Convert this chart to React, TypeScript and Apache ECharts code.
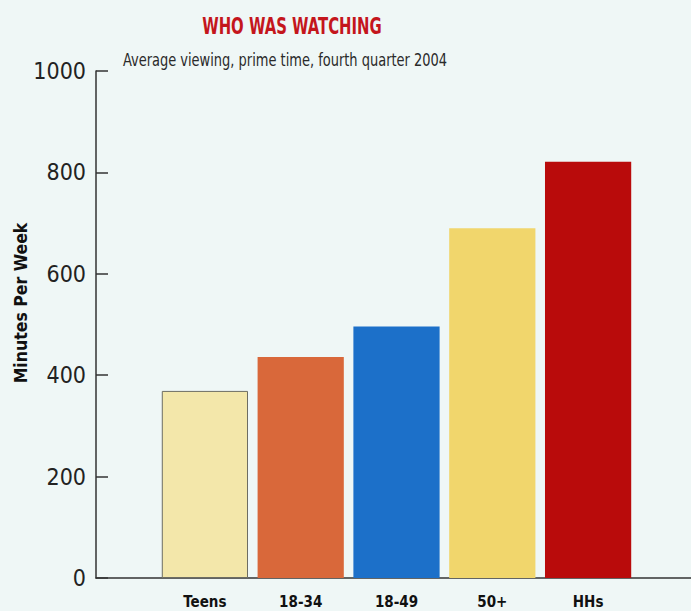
import React, { useEffect, useRef } from "react";
import * as echarts from "echarts";

const categories = ["Teens", "18-34", "18-49", "50+", "HHs"];
const minutesPerWeek = [369, 436, 496, 690, 821];
const barColors = ["#f3e7aa", "#d9683a", "#1c70c9", "#f1d66c", "#b90b0b"];
const yTicks = [0, 200, 400, 600, 800, 1000];

const FONT = "'DejaVu Sans Condensed', 'DejaVu Sans', sans-serif";
const titleText = "WHO WAS WATCHING";
const subtitleText = "Average viewing, prime time, fourth quarter 2004";
const yAxisName = "Minutes Per Week";

export default function App() {
  const ref = useRef<HTMLDivElement>(null);
  useEffect(() => {
    if (!ref.current) return;
    const chart = echarts.init(ref.current, undefined, { renderer: "svg" });
    const yMax = yTicks[yTicks.length - 1];
    chart.setOption({
      animation: false,
      backgroundColor: "#eff7f6",
      textStyle: { fontFamily: FONT },
      graphic: [
        {
          type: "text",
          x: 292,
          y: 26,
          scaleX: 0.72,
          style: {
            text: titleText,
            fill: "#c4161c",
            font: `bold 23px ${FONT}`,
            align: "center",
            verticalAlign: "middle",
          },
        },
        {
          type: "text",
          x: 285,
          y: 60,
          scaleX: 0.85,
          style: {
            text: subtitleText,
            fill: "#2a2a2a",
            font: `17px ${FONT}`,
            align: "center",
            verticalAlign: "middle",
          },
        },
        {
          type: "text",
          x: 21,
          y: 303,
          rotation: Math.PI / 2,
          style: {
            text: yAxisName,
            fill: "#111",
            font: `bold 17.5px ${FONT}`,
            align: "center",
            verticalAlign: "middle",
          },
        },
      ],
      grid: [
        { left: 157, right: 55, top: 71, bottom: 33, outerBoundsMode: "none", containLabel: false },
        { left: 96, right: 0, top: 71, bottom: 33, outerBoundsMode: "none", containLabel: false },
      ],
      xAxis: [
        {
          type: "category",
          gridIndex: 0,
          data: categories,
          axisLine: { show: false },
          axisTick: { show: false },
          axisLabel: {
            color: "#111",
            fontSize: 15,
            fontWeight: "bold",
            margin: 16,
            fontFamily: FONT,
          },
        },
        {
          type: "value",
          gridIndex: 1,
          min: 0,
          max: 1,
          axisLine: { show: true, lineStyle: { color: "#333", width: 1.5 } },
          axisTick: { show: false },
          axisLabel: { show: false },
          splitLine: { show: false },
        },
      ],
      yAxis: [
        {
          type: "value",
          gridIndex: 0,
          min: 0,
          max: yMax,
          show: false,
          splitLine: { show: false },
        },
        {
          type: "value",
          gridIndex: 1,
          min: 0,
          max: yMax,
          interval: 200,
          axisLine: { show: true, lineStyle: { color: "#333", width: 1.5 } },
          axisTick: { show: true, inside: true, length: 12, lineStyle: { color: "#333", width: 1.5 } },
          axisLabel: {
            color: "#222",
            fontSize: 23,
            margin: 10,
            fontFamily: FONT,
            formatter: (v: number) => String(v),
          },
          splitLine: { show: false },
        },
      ],
      series: [
        {
          type: "bar",
          xAxisIndex: 0,
          yAxisIndex: 0,
          barCategoryGap: "10%",
          data: minutesPerWeek.map((v, i) => ({
            value: v,
            itemStyle: {
              color: barColors[i],
              borderColor: i === 0 ? "#6d6d62" : barColors[i],
              borderWidth: i === 0 ? 1 : 0,
            },
          })),
        },
      ],
    });
    return () => chart.dispose();
  }, []);
  return (
    <div
      ref={ref}
      style={{ position: "fixed", left: 0, top: 0, width: 691, height: 611 }}
    />
  );
}
